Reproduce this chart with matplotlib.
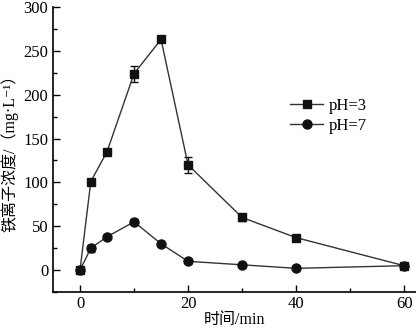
import matplotlib
matplotlib.use("Agg")
import matplotlib.pyplot as plt
from matplotlib.ticker import MultipleLocator
from matplotlib.lines import Line2D

plt.rcParams['font.family'] = ['Liberation Serif', 'Noto Sans CJK SC', 'DejaVu Sans']

time_min = [0, 2, 5, 10, 15, 20, 30, 40, 60]
fe_ph3 = [0, 101, 135, 224, 263, 120, 60, 37, 5]
err_ph3 = [0, 0, 0, 9, 0, 9, 4, 0, 2]
fe_ph7 = [0, 25, 38, 55, 30, 10, 6, 2, 5]
err_ph7 = [0, 4, 0, 3, 0, 0, 0, 0, 0]

fig = plt.figure(figsize=(4.16, 3.28), dpi=100)
ax = fig.add_axes([53/416, 36/328, 363/416, 285/328])

ax.errorbar(time_min, fe_ph3, yerr=err_ph3, color='#333333', lw=1.0,
            marker='s', ms=6, mfc='#111111', mec='#111111',
            ecolor='#111111', elinewidth=1.0, capsize=3)
ax.errorbar(time_min, fe_ph7, yerr=err_ph7, color='#333333', lw=1.0,
            marker='o', ms=6.5, mfc='#111111', mec='#111111',
            ecolor='#111111', elinewidth=1.0, capsize=3)

ax.set_xlim(-5, 62.2)
ax.set_ylim(-25, 300)
ax.xaxis.set_major_locator(MultipleLocator(20))
ax.xaxis.set_minor_locator(MultipleLocator(10))
ax.yaxis.set_major_locator(MultipleLocator(50))
ax.yaxis.set_minor_locator(MultipleLocator(25))
ax.tick_params(which='both', direction='in', labelsize=12, width=1.0)
ax.tick_params(which='major', length=5)
ax.tick_params(which='minor', length=3)
ax.tick_params(axis='x', pad=3)
for s in ('top', 'right'):
    ax.spines[s].set_visible(False)
for s in ('left', 'bottom'):
    ax.spines[s].set_linewidth(1.2)

ax.set_xlabel('时间/min', fontsize=11.5, labelpad=0)
ax.set_ylabel('铁离子浓度/（mg·L⁻¹）', fontsize=11.5, labelpad=3)

handles = [
    Line2D([], [], color='#333333', lw=1.0, marker='s', ms=6,
           mfc='#111111', mec='#111111', label='pH=3'),
    Line2D([], [], color='#333333', lw=1.0, marker='o', ms=6.5,
           mfc='#111111', mec='#111111', label='pH=7'),
]
ax.legend(handles=handles, loc='upper left', bbox_to_anchor=(0.653, 0.68),
          frameon=False, fontsize=12, handlelength=2.0, handletextpad=0.35,
          labelspacing=0.2, borderpad=0, borderaxespad=0)

fig.savefig('out.png', dpi=100)
